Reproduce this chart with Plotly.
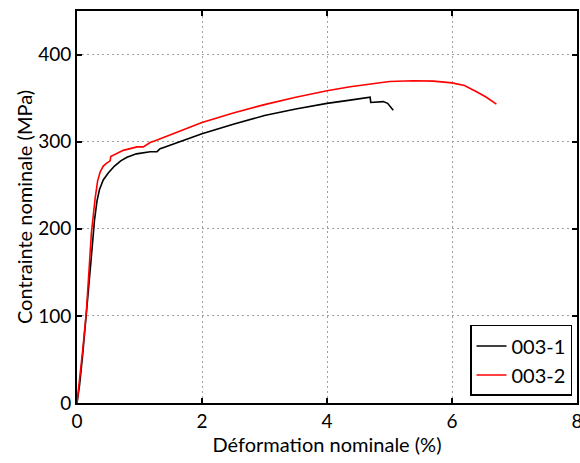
import plotly.graph_objects as go

# Series 003-1 (black)
strain_1 = [0, 0.04, 0.09, 0.15, 0.22, 0.28, 0.32, 0.36, 0.42, 0.5, 0.6, 0.7, 0.8, 0.95, 1.1, 1.17, 1.28,
            1.33, 1.41, 1.49, 1.7, 2.0, 2.5, 3.0, 3.5, 4.0, 4.37, 4.69, 4.7, 4.8, 4.9, 4.97, 5.02, 5.06]
stress_1 = [0, 20, 55, 100, 160, 210, 232, 245, 256, 264, 272, 278, 282, 286, 288, 288.5, 288.5,
            292, 294, 296, 301, 309, 320, 330, 337.5, 344, 347.7, 351, 345, 345.5, 346, 344, 340, 336]

# Series 003-2 (red)
strain_2 = [0, 0.04, 0.09, 0.15, 0.23, 0.29, 0.33, 0.37, 0.42, 0.47, 0.53, 0.54, 0.62, 0.74, 0.85, 0.96,
            1.06, 1.17, 1.25, 1.5, 2.0, 2.5, 3.0, 3.5, 4.0, 4.37, 5.0, 5.38, 5.7, 6.0, 6.2, 6.4, 6.55, 6.71]
stress_2 = [0, 25, 60, 105, 195, 235, 255, 265, 272, 275, 278, 283, 286, 290, 292, 294,
            294, 299, 301, 308, 322, 333, 342.5, 351, 358.4, 363, 369, 370, 369.5, 367.5, 364.5, 357, 351, 343]

series_names = ["003-1", "003-2"]
x_ticks = [0, 2, 4, 6, 8]
y_ticks = [0, 100, 200, 300, 400]

FONT = "Lato"

fig = go.Figure()
fig.add_trace(go.Scatter(x=strain_1, y=stress_1, mode="lines", name=series_names[0],
                         line=dict(color="black", width=1.6)))
fig.add_trace(go.Scatter(x=strain_2, y=stress_2, mode="lines", name=series_names[1],
                         line=dict(color="red", width=1.6)))

axis_common = dict(
    showline=True, linecolor="black", linewidth=2, mirror="ticks",
    ticks="inside", ticklen=5, tickwidth=1.5, tickcolor="black",
    showgrid=True, gridcolor="#a0a0a0", griddash="2px,3px", gridwidth=1,
    zeroline=False, automargin=False, ticklabeloverflow="allow",
    tickfont=dict(family=FONT, size=19, color="black"),
)

fig.update_xaxes(range=[0, 8], tickvals=x_ticks, ticktext=[str(v) for v in x_ticks],
                 title=dict(text="Déformation nominale (%)", font=dict(family=FONT, size=20, color="black"),
                            standoff=0),
                 **axis_common)
fig.update_yaxes(range=[0, 450], tickvals=y_ticks, ticktext=[str(v) for v in y_ticks],
                 title=dict(text="Contrainte nominale (MPa)", font=dict(family=FONT, size=20, color="black"),
                            standoff=0),
                 **axis_common)

fig.update_layout(
    width=580, height=463,
    margin=dict(l=77, r=3, t=11, b=60),
    paper_bgcolor="white", plot_bgcolor="white",
    showlegend=True,
    legend=dict(x=0.99, y=0.018, xanchor="right", yanchor="bottom",
                bgcolor="white", bordercolor="black", borderwidth=1.5,
                font=dict(family=FONT, size=20, color="black"),
                itemwidth=30),
)

fig.write_html("out.html", config={"displayModeBar": False},
               post_script="document.body.style.margin='0';")
